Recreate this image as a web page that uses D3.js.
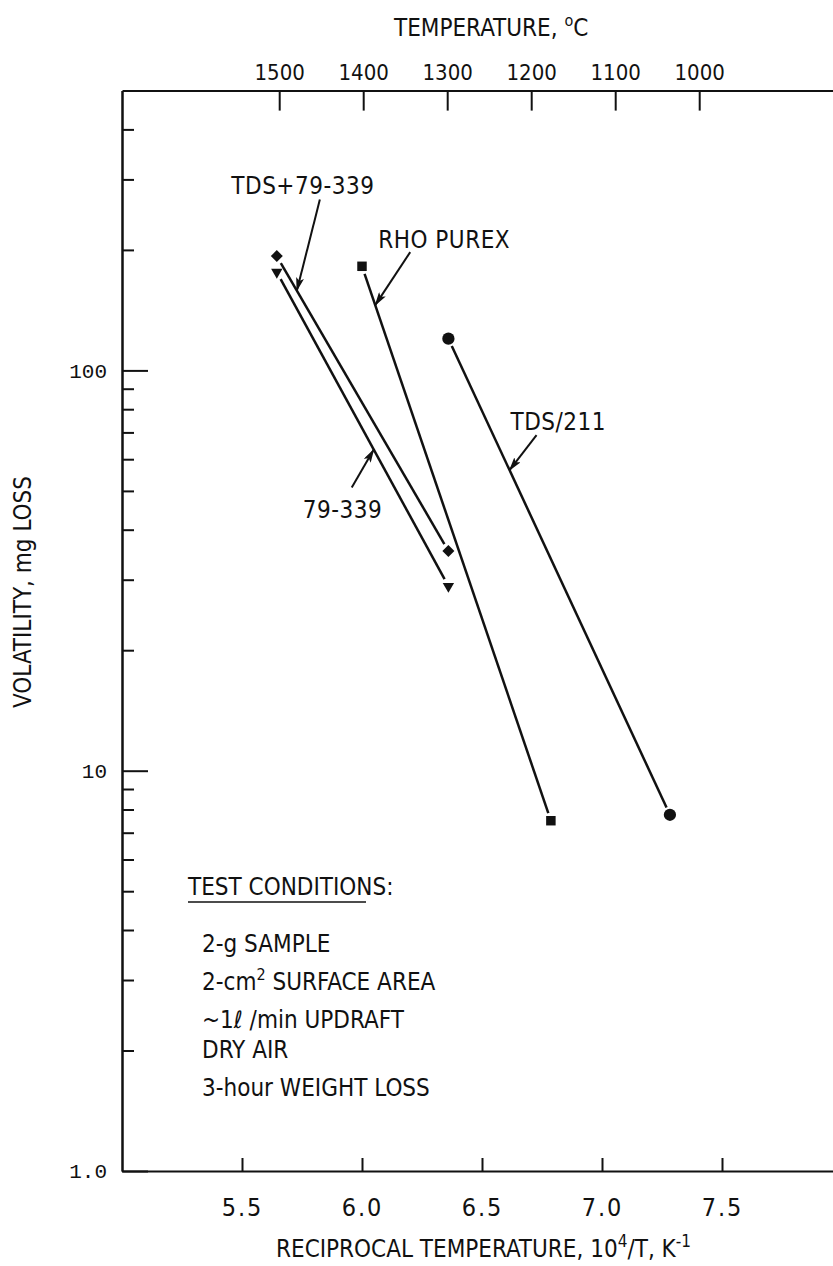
<!DOCTYPE html>
<html>
<head>
<meta charset="utf-8">
<script src="https://cdn.jsdelivr.net/npm/d3@7"></script>
<style>
  body { margin: 0; background: #fff; }
  svg text { font-family: "Liberation Sans Narrow", "DejaVu Sans Condensed", "Roboto Condensed", sans-serif; fill: #111; }
  .axis path, .axis line { stroke: #111; stroke-width: 2; }
  .tick-top text { font-size: 22px; }
  .tick-bottom text { font-size: 25px; letter-spacing: 2px; }
  .tick-left text { font-family: "Liberation Mono", "DejaVu Sans Mono", monospace; font-size: 21px; }
  .lbl { font-size: 24px; }
</style>
</head>
<body>
<div id="chart"></div>
<script>
// test points: [10^4/T, mg lost]
const tdsPlus79 = [[5.645, 193], [6.36, 35.4]];
const only79 = [[5.645, 176], [6.36, 28.9]];
const rhoPurex = [[6.0, 182], [6.787, 7.5]];
const tds211 = [[6.36, 120], [7.283, 7.76]];

const seriesNames = ["TDS+79-339", "79-339", "RHO PUREX", "TDS/211"];
const seriesData = [tdsPlus79, only79, rhoPurex, tds211];
const seriesSymbols = ["diamond", "triangle", "square", "circle"];

const xTicks = [5.5, 6.0, 6.5, 7.0, 7.5];
const tempTicks = [1500, 1400, 1300, 1200, 1100, 1000];
const yMajor = [1, 10, 100];
const yLabels = ["1.0", "10", "100"];
const yMinor = [2, 3, 4, 5, 6, 7, 8, 9, 20, 30, 40, 50, 60, 70, 80, 90, 200, 300, 400];

const conditions = [
    ["2-g SAMPLE"],
    ["2-cm^2^ SURFACE AREA"],
    ["~1ℓ /min UPDRAFT", "DRY AIR"],
    ["3-hour WEIGHT LOSS"]
];

const width = 833, height = 1266;
const svg = d3.select("#chart").append("svg")
    .attr("width", width)
    .attr("height", height)
    .style("background", "#fff");

const x = d3.scaleLinear().domain([5, 8]).range([122, 842]);
const y = d3.scaleLog().domain([1, 500]).range([1171, 1171 - Math.log10(500) * 400.3]);
// the temperature ticks on the original are evenly spaced
const temp = d3.scaleLinear().domain([1500, 1000]).range([x(5.655), x(7.405)]);

// write text with ^sup^ parts
function rich(sel, str, supSize) {
    const parts = str.split("^");
    parts.forEach((p, i) => {
        if (!p) return;
        const sup = i % 2 === 1;
        sel.append("tspan")
            .attr("font-size", sup ? supSize : null)
            .attr("dy", sup ? -10 : (i > 0 ? 10 : 0))
            .text(p);
    });
}

// bottom axis
svg.append("g")
    .attr("class", "axis tick-bottom")
    .attr("transform", `translate(0,${y(1)})`)
    .call(d3.axisBottom(x).tickValues(xTicks).tickFormat(d3.format(".1f"))
        .tickSize(-13).tickSizeOuter(0).tickPadding(27));

// top frame line
svg.append("g")
    .attr("class", "axis")
    .attr("transform", `translate(0,${y(500)})`)
    .call(d3.axisTop(x).tickValues([]).tickSizeOuter(0));

// top temperature axis
const topAxis = svg.append("g")
    .attr("class", "axis tick-top")
    .attr("transform", `translate(0,${y(500)})`)
    .call(d3.axisTop(temp).tickValues(tempTicks).tickFormat(d3.format("d"))
        .tickSize(-20).tickPadding(11));
topAxis.select(".domain").remove();

// left axis, minor then major ticks
svg.append("g")
    .attr("class", "axis")
    .attr("transform", `translate(${x(5)},0)`)
    .call(d3.axisLeft(y).tickValues(yMinor).tickFormat("").tickSize(-12).tickSizeOuter(0));

svg.append("g")
    .attr("class", "axis tick-left")
    .attr("transform", `translate(${x(5)},0)`)
    .call(d3.axisLeft(y).tickValues(yMajor).tickFormat((d, i) => yLabels[i])
        .tickSize(-26).tickSizeOuter(0).tickPadding(15));

// axis titles
const topTitle = svg.append("text").attr("class", "lbl")
    .attr("x", 394).attr("y", 36);
topTitle.append("tspan").text("TEMPERATURE, ");
topTitle.append("tspan").attr("font-size", 16).attr("dy", -10).text("o");
topTitle.append("tspan").attr("dy", 10).text("C");

const botTitle = svg.append("text").attr("class", "lbl")
    .attr("x", 276).attr("y", 1257);
rich(botTitle, "RECIPROCAL TEMPERATURE, 10^4^/T, K^-1^", 17);

svg.append("text").attr("class", "lbl")
    .attr("text-anchor", "middle")
    .attr("transform", "translate(31,592) rotate(-90)")
    .text("VOLATILITY, mg LOSS");

// series lines, trimmed a little at each marker
const gap = 8;
seriesData.forEach(pts => {
    const [p0, p1] = pts.map(d => [x(d[0]), y(d[1])]);
    const len = Math.hypot(p1[0] - p0[0], p1[1] - p0[1]);
    const ux = (p1[0] - p0[0]) / len, uy = (p1[1] - p0[1]) / len;
    svg.append("line")
        .attr("x1", p0[0] + ux * gap).attr("y1", p0[1] + uy * gap)
        .attr("x2", p1[0] - ux * gap).attr("y2", p1[1] - uy * gap)
        .attr("stroke", "#111")
        .attr("stroke-width", 2.5);
});

// markers
const symbolOf = {
    diamond: { type: d3.symbolSquare, size: 72, rot: 45 },
    triangle: { type: d3.symbolTriangle, size: 56, rot: 180 },
    square: { type: d3.symbolSquare, size: 90, rot: 0 },
    circle: { type: d3.symbolCircle, size: 118, rot: 0 }
};
seriesData.forEach((pts, i) => {
    const s = symbolOf[seriesSymbols[i]];
    svg.selectAll(null)
        .data(pts)
        .enter().append("path")
        .attr("d", d3.symbol().type(s.type).size(s.size))
        .attr("transform", d => `translate(${x(d[0])},${y(d[1])}) rotate(${s.rot})`)
        .attr("fill", "#111");
});

// arrowhead
svg.append("defs").append("marker")
    .attr("id", "arrow")
    .attr("markerUnits", "userSpaceOnUse")
    .attr("markerWidth", 14).attr("markerHeight", 8)
    .attr("refX", 13).attr("refY", 4)
    .attr("orient", "auto")
    .append("path")
    .attr("d", "M0,0 L14,4 L0,8 L3,4 Z")
    .attr("fill", "#111");

// labels with arrows: tip at fraction t along the series line, tail offset in px
const callouts = [
    { s: 0, t: 0.117, dx: 23, dy: -91, lx: -17, ly: -6, anchor: "middle" },
    { s: 2, t: 0.07, dx: 35, dy: -53, lx: -32, ly: -4, anchor: "start" },
    { s: 3, t: 0.276, dx: 27, dy: -35, lx: -26, ly: -5, anchor: "start" },
    { s: 1, t: 0.565, dx: -22, dy: 38, lx: -49, ly: 30, anchor: "start" }
];
callouts.forEach(c => {
    const [a, b] = seriesData[c.s].map(d => [x(d[0]), y(d[1])]);
    const tip = [a[0] + (b[0] - a[0]) * c.t, a[1] + (b[1] - a[1]) * c.t];
    const tail = [tip[0] + c.dx, tip[1] + c.dy];
    svg.append("line")
        .attr("x1", tail[0]).attr("y1", tail[1])
        .attr("x2", tip[0]).attr("y2", tip[1])
        .attr("stroke", "#111").attr("stroke-width", 2)
        .attr("marker-end", "url(#arrow)");
    svg.append("text").attr("class", "lbl")
        .attr("x", tail[0] + c.lx).attr("y", tail[1] + c.ly)
        .attr("text-anchor", c.anchor)
        .attr("letter-spacing", 0.5)
        .text(seriesNames[c.s]);
});

// test conditions note
const note = svg.append("g");
note.append("text").attr("class", "lbl")
    .attr("x", 188).attr("y", 895)
    .text("TEST CONDITIONS:");
note.append("line")
    .attr("x1", 188).attr("x2", 366)
    .attr("y1", 902).attr("y2", 902)
    .attr("stroke", "#111").attr("stroke-width", 1.5);

let base = 952;
conditions.forEach(item => {
    item.forEach((line, j) => {
        const tx = note.append("text").attr("class", "lbl")
            .attr("x", 202).attr("y", base + j * 30);
        rich(tx, line, 16);
    });
    base += (item.length - 1) * 30 + 38;
});
</script>
</body>
</html>
